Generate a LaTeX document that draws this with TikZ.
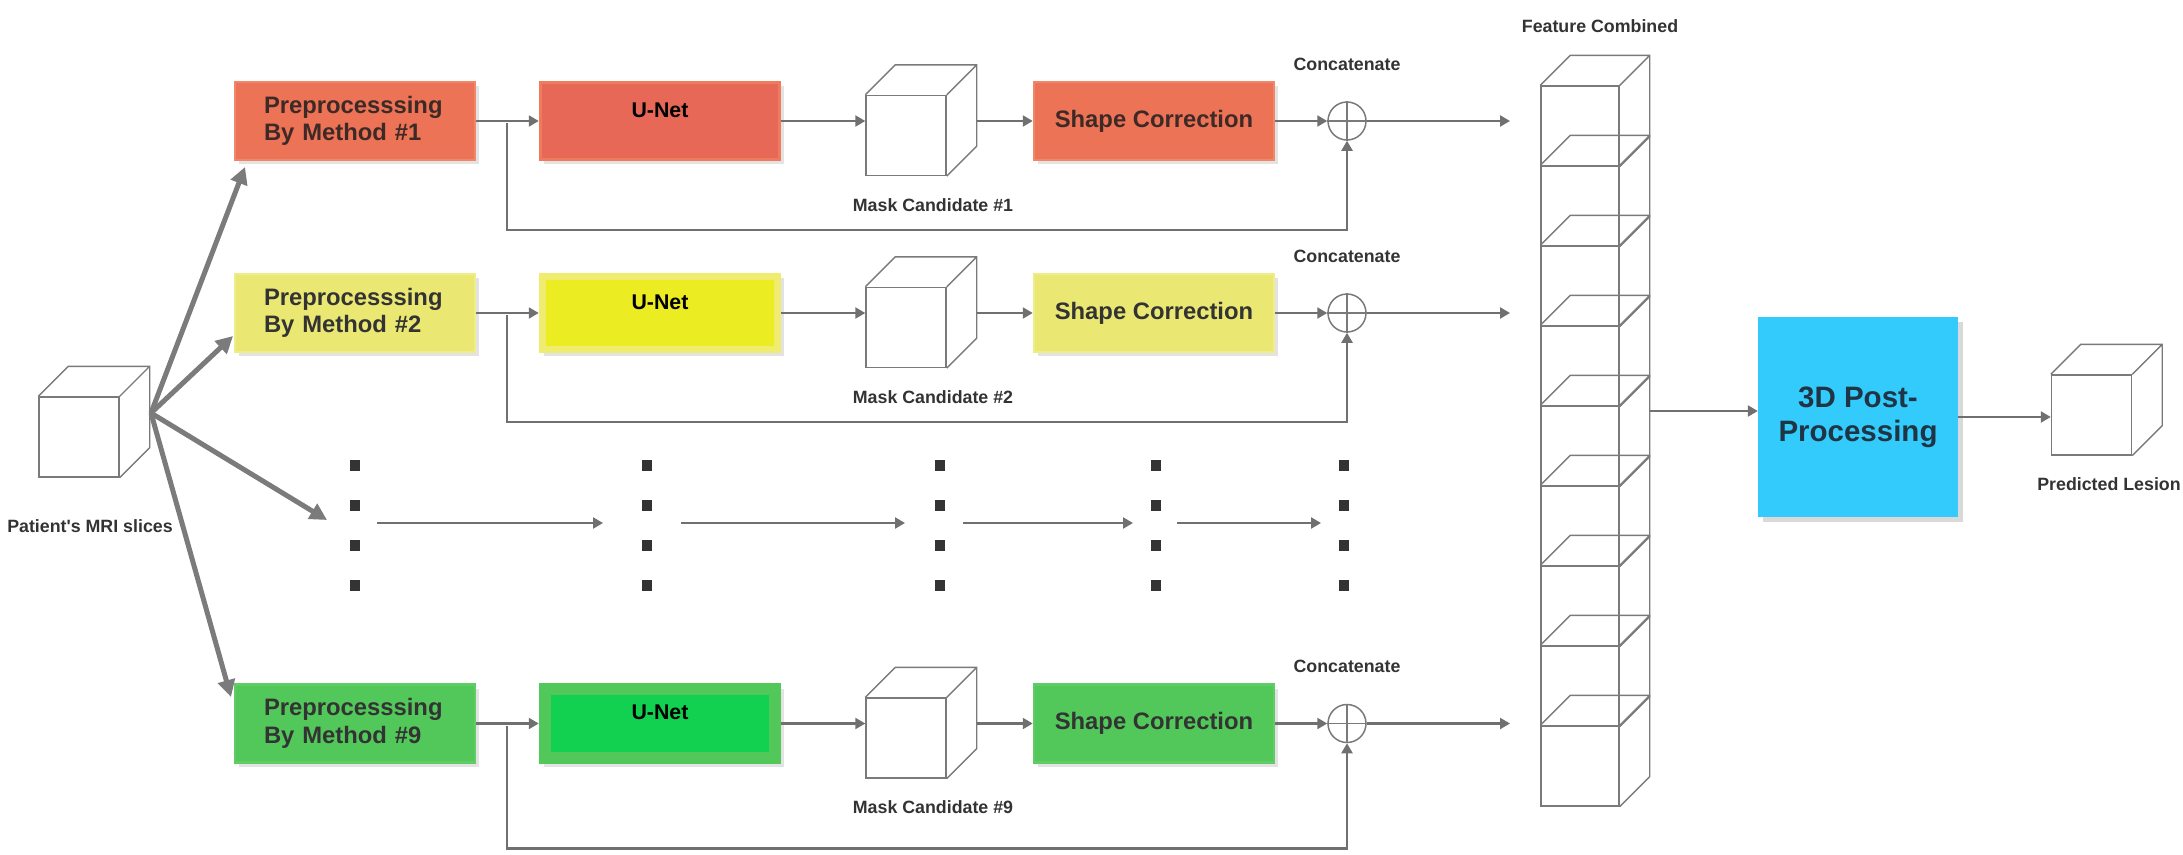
\documentclass[tikz,border=0pt]{standalone}
\usepackage{fontspec}
\setmainfont{Liberation Sans}
\usetikzlibrary{arrows.meta,shadows}
\definecolor{prepA}{HTML}{EC7355}
\definecolor{prepAedge}{HTML}{F0866A}
\definecolor{unetA}{HTML}{E86858}
\definecolor{unetAedge}{HTML}{EF7A5E}
\definecolor{prepB}{HTML}{EAE873}
\definecolor{prepBedge}{HTML}{EFEC8A}
\definecolor{unetB}{HTML}{ECEC22}
\definecolor{unetBedge}{HTML}{EFEC70}
\definecolor{prepC}{HTML}{52C85A}
\definecolor{prepCedge}{HTML}{5FCC66}
\definecolor{unetC}{HTML}{12D050}
\definecolor{unetCedge}{HTML}{52C85A}
\definecolor{linegray}{HTML}{707070}
\definecolor{biggray}{HTML}{7B7B7B}
\definecolor{cubegray}{HTML}{7A7A7A}
\definecolor{txtdark}{HTML}{333333}
\definecolor{txtA}{HTML}{3D2A27}
\definecolor{ppblue}{HTML}{33CBFC}
\definecolor{pptxt}{HTML}{1F3545}
\newcommand\cubesides[1]{\draw[cubel] (#1.north west) -- ++(30pt,30pt) -| ([shift={(30pt,30pt)}]#1.south east) -- (#1.south east) (#1.north east) -- ++(30pt,30pt);}
\begin{document}
\begin{tikzpicture}[x=1pt,y=-1pt,
  conn/.style={draw=linegray,line width=2.2pt,-{Triangle[length=10pt,width=11pt]}},
  bigconn/.style={draw=biggray,line width=5pt,-{Triangle[length=17pt,width=17pt]}},
  cubel/.style={draw=cubegray,line width=1.4pt,line join=miter},
  cubef/.style={rectangle,draw=cubegray,line width=1.4pt,fill=white,minimum width=80pt,minimum height=80pt,inner sep=0pt},
  boxshadow/.style={drop shadow={shadow xshift=4pt,shadow yshift=-4pt,opacity=0.22}},
  prep/.style={rectangle,boxshadow,line width=2.5pt,minimum width=240pt,minimum height=78pt,inner xsep=0pt,text width=182pt,align=left,font=\bfseries\fontsize{23.8}{27.5}\selectfont},
  scbox/.style={rectangle,boxshadow,line width=2.5pt,minimum width=240pt,minimum height=78pt,inner sep=0pt,align=center,font=\bfseries\fontsize{23.8}{27.5}\selectfont},
  unet/.style={rectangle,boxshadow,line width=2.5pt,minimum width=240pt,minimum height=78pt,inner sep=0pt},
  unettxt/.style={font=\bfseries\fontsize{21.3}{24}\selectfont,text=black,inner sep=0pt},
  lab/.style={font=\bfseries\fontsize{17.8}{20}\selectfont,text=txtdark,inner sep=0pt},
  cplus/.style={circle,draw=cubegray,line width=1.5pt,fill=white,minimum size=38pt,inner sep=0pt},
  sqdot/.style={rectangle,fill=txtdark,minimum width=10pt,minimum height=11pt,inner sep=0pt}]
\useasboundingbox (0,0) rectangle (2183,854);

% input cube
\node[cubef] (in) at (79,437) {};
\cubesides{in}
\node[lab] (inl) at (90,526) {Patient\textquotesingle s MRI slices};
\coordinate (src) at (151,413);
\coordinate (t1) at (245,167);
\coordinate (t2) at (233,336);
\coordinate (t3) at (327,520);
\coordinate (t4) at (231,697);
\draw[bigconn] (src) -- (t1);
\draw[bigconn] (src) -- (t2);
\draw[bigconn] (src) -- (t3);
\draw[bigconn] (src) -- (t4);

% rows
\foreach \r/\y/\pc/\pe/\uc/\ue/\tc/\ins/\skd in {1/121/prepA/prepAedge/unetA/unetAedge/txtA/3pt/107,2/313/prepB/prepBedge/unetB/unetBedge/txtdark/7pt/107,9/723.5/prepC/prepCedge/unetC/unetCedge/txtdark/12pt/123}{
  \node[prep,fill=\pc,draw=\pe,text=\tc] (p\r) at (355,\y) {Preprocesssing\\By Method \#\r};
  \node[unet,fill=\ue,draw=\ue] (u\r) at (660,\y) {};
  \fill[\uc] ([shift={(\ins,-\ins)}]u\r.north west) rectangle ([shift={(-\ins,\ins)}]u\r.south east);
  \node[unettxt] (ut\r) at ([yshift=11pt]u\r.center) {U-Net};
  \node[cubef] (m\r) at (906,\y+14.5) {};
  \cubesides{m\r}
  \coordinate (mb\r) at ([xshift=30pt]m\r.east);
  \node[lab] (ml\r) at (933,\y+84) {Mask Candidate \#\r};
  \node[scbox,fill=\pc,draw=\pe,text=\tc] (s\r) at (1154,\y) {Shape Correction};
  \node[cplus] (c\r) at (1347,\y) {};
  \draw[cubel] (c\r.north) -- (c\r.south) (c\r.west) -- (c\r.east);
  \node[lab] (cl\r) at (1347,\y-57) {Concatenate};
  \coordinate (f\r) at (1510,\y);
  \coordinate (k\r) at (507,\y+2);
  \draw[conn] (p\r) -- (u\r);
  \draw[conn] (u\r) -- (u\r -| m\r.west);
  \draw[conn] (mb\r |- s\r) -- (s\r);
  \draw[conn] (s\r) -- (c\r);
  \draw[conn] (c\r) -- (f\r);
  \draw[conn] (k\r) -- ++(0,\skd) -| (c\r.south);
}

% dots row
\foreach \x [count=\n] in {355,647,940,1156,1344}{
  \foreach \yy [count=\m] in {465,505,545,585}{
    \node[sqdot] (d\n-\m) at (\x,\yy) {};
  }
}
\coordinate (da1) at (377,523); \coordinate (db1) at (603,523);
\coordinate (da2) at (681,523); \coordinate (db2) at (905,523);
\coordinate (da3) at (963,523); \coordinate (db3) at (1133,523);
\coordinate (da4) at (1177,523); \coordinate (db4) at (1321,523);
\foreach \i in {1,2,3,4}{\draw[conn] (da\i) -- (db\i);}

% feature column
\foreach \i in {0,...,8}{
  \node[cubef,minimum width=78pt] (col\i) at (1580,126+80*\i) {};
  \cubesides{col\i}
}
\node[lab] (fcl) at (1600,26) {Feature Combined};

% post-processing
\node[rectangle,fill=ppblue,minimum width=200pt,minimum height=200pt,inner sep=0pt,align=center,text=pptxt,
  font=\bfseries\fontsize{29.5}{34}\selectfont,drop shadow={shadow xshift=5pt,shadow yshift=-5pt,opacity=0.3}] (pp) at (1858,417) {3D Post-\\Processing};
\coordinate (fo) at (1650,411);
\draw[conn] (fo) -- (fo -| pp.west);

% output cube
\node[cubef] (out) at (2091.5,415) {};
\cubesides{out}
\draw[conn] (pp.east) -- (pp.east -| out.west);
\node[lab] (outl) at (2109,484) {Predicted Lesion};
\end{tikzpicture}
\end{document}
